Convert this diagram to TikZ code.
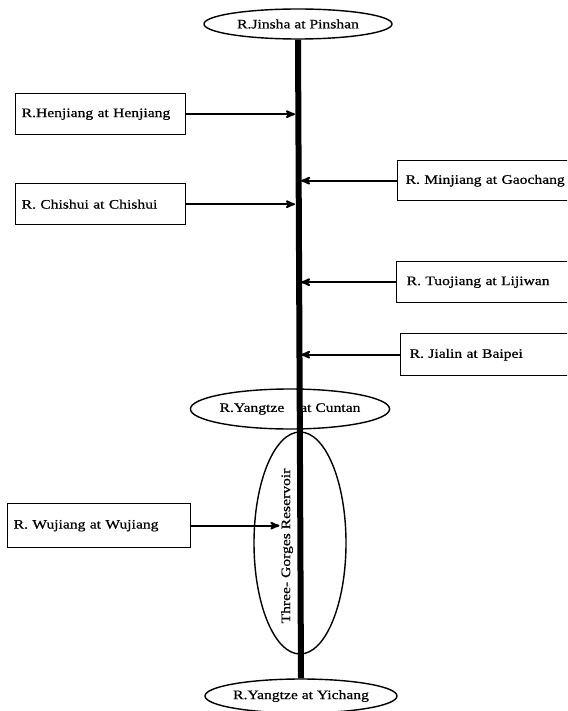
\documentclass[tikz,border=0pt]{standalone}
\usepackage{fontspec}
\newfontfamily\scanfont[FakeStretch=1.2,FakeBold=0.6]{Liberation Serif}
\usepackage{tikz}
\usetikzlibrary{arrows,shapes.geometric}

\begin{document}
\begin{tikzpicture}[x=1pt,y=-1pt,->,>=stealth',shorten >=3pt,line width=1.4pt,
    font=\scanfont\fontsize{13}{15}\selectfont,
    site node/.style={ellipse,draw,inner sep=0pt},
    trib node/.style={rectangle,draw,anchor=north west,minimum height=41pt,inner xsep=6pt,text width=#1,align=left}]

  \useasboundingbox (0,0) rectangle (567,711);
  \clip (0,0) rectangle (567,711);

  \node[site node,minimum width=188pt,minimum height=30pt] (jinsha) at (298,24) {R.Jinsha at Pinshan};
  \node[site node,minimum width=190pt,minimum height=34pt] (yichang) at (301,696) {R.Yangtze at Yichang};

  % main stem of the river
  \draw[-,line width=6pt,shorten >=0pt] (jinsha.south) -- (yichang.north);

  \node[site node,minimum width=195pt,minimum height=40pt] (cuntan) at (290,409) {R.Yangtze\hspace{12pt} at Cuntan};
  \node[site node,minimum width=92pt,minimum height=222pt] (gorges) at (300,543) {};
  \node[rotate=90,inner sep=1pt] (gtext) at (287,546) {Three- Gorges Reservoir};

  % tributaries
  \node[trib node=158pt] (henjiang) at (15,93) {R.Henjiang at Henjiang};
  \node[trib node=158pt] (chishui) at (15,183) {R. Chishui at Chishui};
  \node[trib node=171pt,minimum height=44pt] (wujiang) at (7,503) {R. Wujiang at Wujiang};
  \node[trib node=175pt,minimum height=40pt,inner xsep=8pt] (minjiang) at (397,160) {R. Minjiang at Gaochang};
  \node[trib node=175pt,inner xsep=10pt] (tuojiang) at (396,261) {R. Tuojiang at Lijiwan};
  \node[trib node=175pt,minimum height=42pt,inner xsep=9pt] (jialin) at (400,333) {R. Jialin at Baipei};

  \path[line width=2pt]
        (henjiang.east) edge (henjiang.east -| jinsha.south)
        (chishui.east) edge (chishui.east -| jinsha.south)
        (minjiang.west) edge (minjiang.west -| jinsha.south)
        (tuojiang.west) edge (tuojiang.west -| jinsha.south)
        (jialin.west) edge (jialin.west -| jinsha.south)
        (wujiang.east) edge [shorten >=0pt] (wujiang.east -| gtext.north)
;
\end{tikzpicture}
\end{document}
